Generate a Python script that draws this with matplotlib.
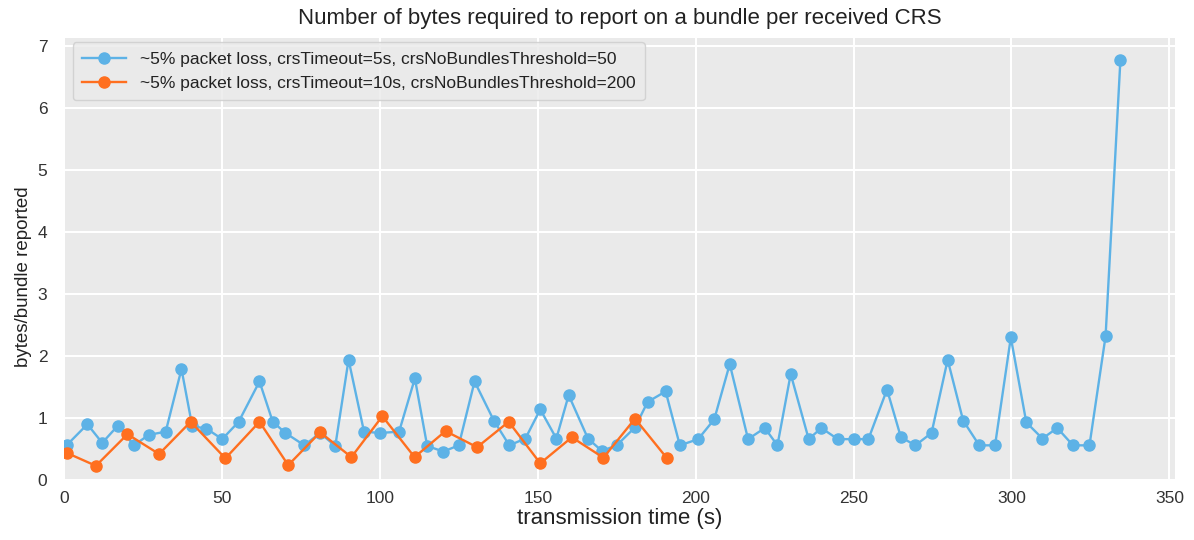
import matplotlib
matplotlib.use("Agg")
import matplotlib.pyplot as plt

# ~5% loss, crsTimeout=5s, threshold=50
blue_t = [1, 7.4, 12.1, 17.1, 22.1, 26.9, 32.2, 37.2, 40.6, 45.1, 50.1, 55.3,
          61.9, 66.1, 70.1, 76.1, 81.1, 85.9, 90.1, 95, 100, 106.1, 111.1, 115,
          120.1, 125, 130, 136.1, 141, 146.1, 150.8, 155.9, 159.8, 165.9, 170.3,
          175, 180.8, 184.8, 190.5, 195, 200.8, 205.9, 210.8, 216.6, 221.9, 225.9,
          230.1, 235.8, 239.8, 245, 250, 254.7, 260.6, 265, 269.6, 274.7, 279.8,
          284.7, 289.8, 294.8, 299.8, 304.7, 309.8, 314.5, 319.5, 324.7, 329.8, 334.5]
blue_v = [0.57, 0.90, 0.60, 0.88, 0.56, 0.73, 0.78, 1.79, 0.87, 0.83, 0.66, 0.94,
          1.59, 0.94, 0.76, 0.56, 0.76, 0.55, 1.94, 0.78, 0.76, 0.78, 1.64, 0.55,
          0.46, 0.56, 1.59, 0.96, 0.56, 0.67, 1.14, 0.67, 1.37, 0.67, 0.47,
          0.56, 0.85, 1.26, 1.43, 0.56, 0.66, 0.98, 1.87, 0.66, 0.84, 0.56,
          1.71, 0.66, 0.84, 0.66, 0.66, 0.66, 1.46, 0.69, 0.56, 0.76, 1.94,
          0.96, 0.56, 0.56, 2.30, 0.93, 0.67, 0.84, 0.56, 0.56, 2.32, 6.78]

# ~5% loss, crsTimeout=10s, threshold=200
orange_t = [0.8, 10.1, 20.1, 30.1, 40.1, 51.1, 61.9, 71, 81.1, 91, 100.8, 111,
            120.8, 130.8, 140.8, 150.8, 160.8, 170.8, 180.8, 190.8]
orange_v = [0.44, 0.23, 0.74, 0.42, 0.94, 0.35, 0.94, 0.24, 0.77, 0.37, 1.03, 0.37,
            0.79, 0.53, 0.94, 0.27, 0.69, 0.36, 0.99, 0.36]

labels = ["~5% packet loss, crsTimeout=5s, crsNoBundlesThreshold=50",
          "~5% packet loss, crsTimeout=10s, crsNoBundlesThreshold=200"]

plt.rcParams['font.family'] = ['Liberation Sans', 'DejaVu Sans']

fig = plt.figure(figsize=(11.94, 5.40), dpi=100)
ax = fig.add_axes([0.0536, 0.111, 0.9304, 0.8186])
ax.set_facecolor('#EAEAEA')
for s in ax.spines.values():
    s.set_visible(False)
ax.grid(True, color='white', lw=1.5)
ax.set_axisbelow(True)

ax.plot(blue_t, blue_v, '-o', color='#5DB2E6', lw=1.7, ms=8, label=labels[0])
ax.plot(orange_t, orange_v, '-o', color='#FF6F1F', lw=1.7, ms=8, label=labels[1])

ax.set_xlim(0, 351.75)
ax.set_ylim(0, 7.13)
ax.set_xticks(range(0, 351, 50))
ax.set_yticks(range(0, 8))
ax.tick_params(length=0, labelsize=12.5, colors='#333333')
ax.tick_params(axis='x', pad=8)
ax.tick_params(axis='y', pad=12)

ax.set_title("Number of bytes required to report on a bundle per received CRS",
             fontsize=16, color='#222222', pad=10)
ax.set_xlabel("transmission time (s)", fontsize=16, color='#222222', labelpad=1)
ax.set_ylabel("bytes/bundle reported", fontsize=13.5, color='#222222')
ax.yaxis.set_label_coords(-0.029, 0.46)

leg = ax.legend(loc='upper left', fontsize=12.5, frameon=True, facecolor='#EAEAEA',
                edgecolor='#CCCCCC', handlelength=2.5, borderpad=0.55,
                bbox_to_anchor=(0.0, 1.01))
for t in leg.get_texts():
    t.set_color('#222222')

fig.savefig('out.png', dpi=100)
